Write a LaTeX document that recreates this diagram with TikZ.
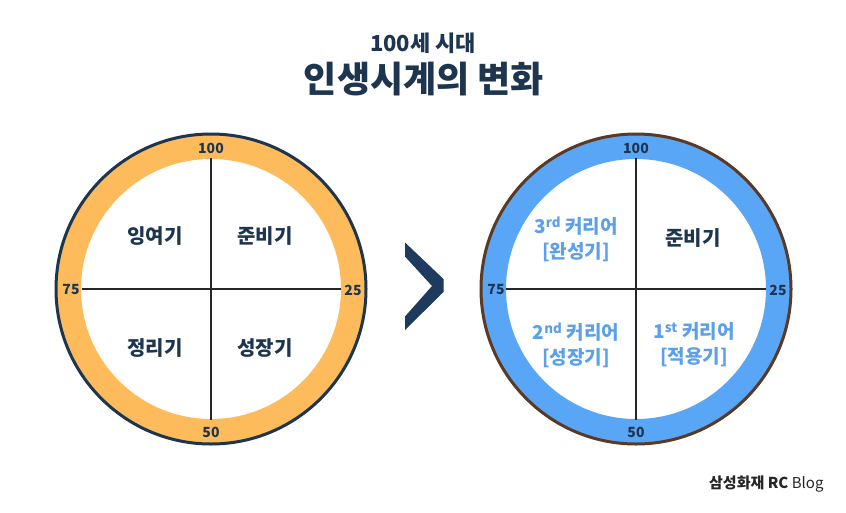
\documentclass[tikz,border=0pt]{standalone}
\usepackage{fontspec}
\setmainfont{Noto Sans CJK KR}
\definecolor{navy}{HTML}{1E3550}
\definecolor{ringor}{HTML}{FDBB5C}
\definecolor{ringbl}{HTML}{5AA6F6}
\definecolor{brownc}{HTML}{5A3A24}
\definecolor{bluetxt}{HTML}{5C9FEA}
\definecolor{chev}{HTML}{1E3A5E}
\tikzset{
  quad/.style={font=\fontsize{20}{24}\selectfont\bfseries, text=navy, align=center, inner sep=0},
  bquad/.style={font=\fontsize{19}{25}\selectfont\bfseries, text=bluetxt, align=center, inner sep=0},
  num/.style={font=\fontsize{14}{14}\selectfont\bfseries, text=navy, inner sep=0},
  axis/.style={line width=1.6pt, draw=black!85}
}
\begin{document}
\begin{tikzpicture}[x=1pt,y=-1pt]
\useasboundingbox (0,0) rectangle (846,512);
\fill[white] (0,0) rectangle (846,512);
% title
\node[font=\fontsize{22}{22}\selectfont\bfseries, text=navy] (t1) at (423,43) {100세 시대};
\node[font=\fontsize{36}{36}\selectfont\bfseries, text=navy] (t2) at (424,79) {인생시계의 변화};
% left clock
\coordinate (lc) at (211,289);
\draw[line width=25pt, ringor] (lc) circle[radius=142.5];
\draw[line width=3pt, navy] (lc) circle[radius=155];
\coordinate (lt) at (211,158);
\coordinate (lb) at (211,420);
\coordinate (ll) at (82,289);
\coordinate (lr) at (341,289);
\draw[axis] (lt) -- (lb);
\draw[axis] (ll) -- (lr);
\node[num] (l100) at (211,148) {100};
\node[num] (l50) at (211,432) {50};
\node[num] (l75) at (71,290) {75};
\node[num] (l25) at (353,290) {25};
\node[quad] (q1) at (155,236) {잉여기};
\node[quad] (q2) at (265,236) {준비기};
\node[quad] (q3) at (155,348) {정리기};
\node[quad] (q4) at (265,348) {성장기};
% chevron
\fill[chev] (405,242.5) -- (443.5,279) -- (443.5,292) -- (405,330) -- (405,316.5) -- (432,286) -- (405,256.5) -- cycle;
% right clock
\coordinate (rc) at (636,289);
\draw[line width=25pt, ringbl] (rc) circle[radius=142.5];
\draw[line width=3pt, brownc] (rc) circle[radius=155];
\coordinate (rt) at (636,158);
\coordinate (rb) at (636,420);
\coordinate (rl) at (506,289);
\coordinate (rr) at (766,289);
\draw[axis] (rt) -- (rb);
\draw[axis] (rl) -- (rr);
\node[num] (r100) at (636,148) {100};
\node[num] (r50) at (636,432) {50};
\node[num] (r75) at (496,290) {75};
\node[num] (r25) at (778,290) {25};
\node[bquad] (p1) at (576,239) {3\textsuperscript{rd} 커리어\\{[}완성기{]}};
\node[quad] (p2) at (693,238) {준비기};
\node[bquad] (p3) at (576,345) {2\textsuperscript{nd} 커리어\\{[}성장기{]}};
\node[bquad] (p4) at (694,345) {1\textsuperscript{st} 커리어\\{[}적용기{]}};
% logo
\node[font=\fontsize{15}{15}\selectfont, text=black!85, anchor=east] (logo) at (827,484) {\textbf{삼성화재 RC} Blog};
\end{tikzpicture}
\end{document}
